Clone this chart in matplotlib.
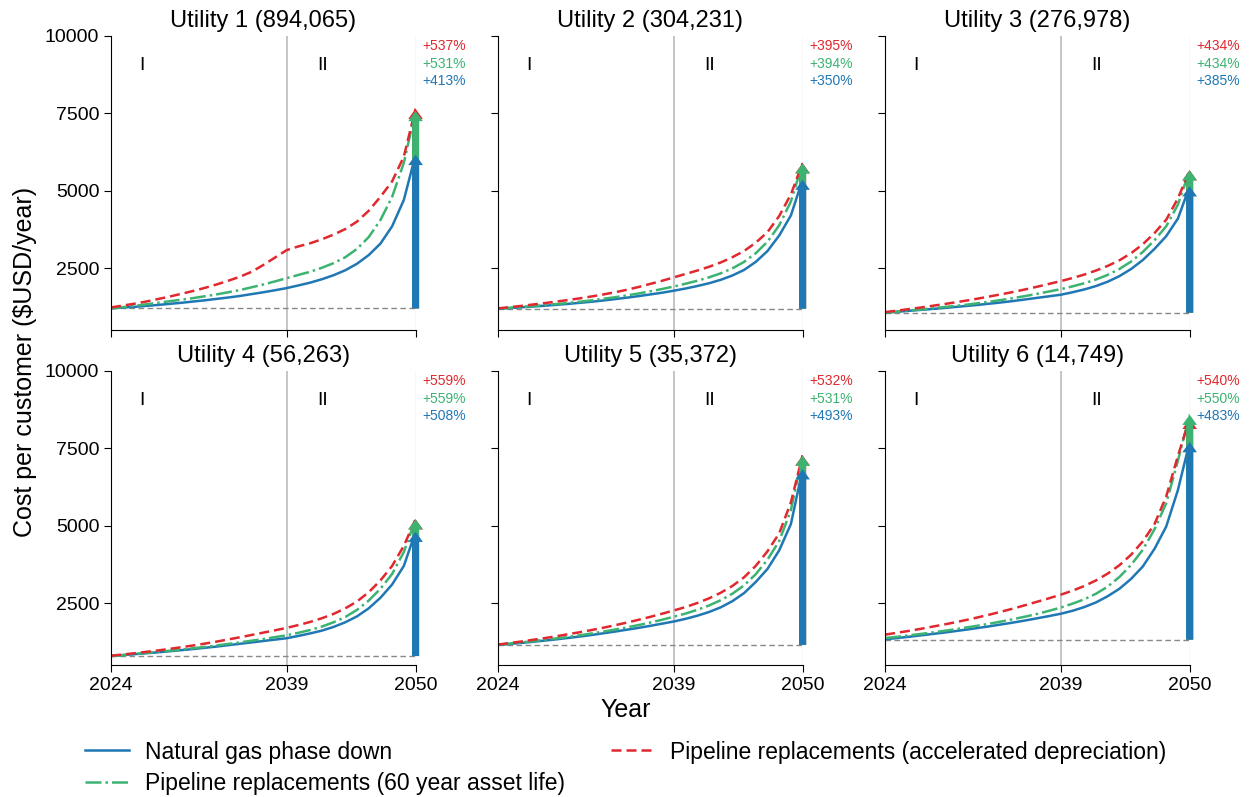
import matplotlib
matplotlib.use("Agg")
import matplotlib.pyplot as plt
import numpy as np

plt.rcParams['font.family'] = ['Liberation Sans', 'DejaVu Sans']

# data
years = np.arange(2024, 2051)
titles = ['Utility 1 (894,065)', 'Utility 2 (304,231)', 'Utility 3 (276,978)',
          'Utility 4 (56,263)', 'Utility 5 (35,372)', 'Utility 6 (14,749)']
baseline = [1200, 1190, 1060, 790, 1150, 1320]

phase_down = [
    [1200, 1225, 1250, 1280, 1310, 1345, 1380, 1420, 1460, 1505, 1550, 1600, 1660, 1720,
     1785, 1855, 1940, 2030, 2140, 2270, 2430, 2640, 2920, 3290, 3850, 4700, 6156],
    [1190, 1210, 1235, 1260, 1285, 1315, 1345, 1380, 1415, 1455, 1500, 1545, 1595, 1650,
     1705, 1770, 1840, 1920, 2010, 2120, 2260, 2440, 2700, 3050, 3550, 4200, 5355],
    [1060, 1090, 1120, 1150, 1180, 1210, 1245, 1280, 1315, 1355, 1395, 1440, 1490, 1540,
     1590, 1640, 1720, 1810, 1920, 2060, 2240, 2470, 2760, 3120, 3530, 4100, 5141],
    [790, 820, 850, 880, 910, 945, 980, 1015, 1055, 1095, 1140, 1185, 1230, 1275,
     1320, 1365, 1440, 1520, 1610, 1730, 1880, 2070, 2330, 2670, 3100, 3700, 4803],
    [1150, 1180, 1215, 1250, 1290, 1330, 1375, 1420, 1470, 1525, 1580, 1640, 1700, 1765,
     1835, 1905, 1990, 2090, 2210, 2360, 2560, 2820, 3180, 3600, 4200, 5050, 6820],
    [1330, 1370, 1410, 1455, 1500, 1545, 1595, 1645, 1700, 1755, 1815, 1875, 1940, 2010,
     2080, 2155, 2250, 2370, 2520, 2720, 2960, 3280, 3680, 4250, 4970, 6150, 7696],
]
pipe_60yr = [
    [1200, 1240, 1280, 1330, 1380, 1430, 1480, 1530, 1590, 1650, 1720, 1790, 1880, 1970,
     2070, 2175, 2280, 2380, 2510, 2660, 2850, 3120, 3500, 4050, 4800, 5900, 7572],
    [1190, 1215, 1245, 1275, 1305, 1340, 1375, 1415, 1460, 1510, 1560, 1620, 1680, 1750,
     1825, 1905, 1995, 2090, 2200, 2330, 2490, 2700, 2980, 3350, 3880, 4650, 5879],
    [1060, 1095, 1130, 1165, 1200, 1240, 1280, 1320, 1370, 1420, 1475, 1535, 1600, 1670,
     1745, 1820, 1910, 2010, 2130, 2280, 2470, 2710, 3020, 3400, 3850, 4550, 5660],
    [790, 820, 855, 890, 925, 960, 1000, 1040, 1085, 1130, 1180, 1230, 1285, 1340,
     1400, 1460, 1540, 1630, 1740, 1880, 2050, 2280, 2580, 2960, 3440, 4150, 5206],
    [1150, 1190, 1230, 1270, 1315, 1360, 1410, 1460, 1520, 1580, 1645, 1715, 1790, 1870,
     1960, 2060, 2160, 2280, 2420, 2590, 2800, 3070, 3430, 3900, 4500, 5500, 7257],
    [1370, 1410, 1455, 1500, 1550, 1600, 1655, 1715, 1775, 1840, 1910, 1985, 2065, 2150,
     2250, 2355, 2480, 2620, 2800, 3030, 3340, 3730, 4220, 4880, 5720, 7100, 8580],
]
pipe_accel = [
    [1230, 1290, 1350, 1420, 1500, 1580, 1670, 1760, 1860, 1970, 2090, 2220, 2380, 2600,
     2840, 3080, 3200, 3300, 3430, 3580, 3760, 4000, 4350, 4800, 5300, 6100, 7644],
    [1200, 1240, 1280, 1325, 1370, 1420, 1470, 1525, 1585, 1650, 1720, 1800, 1890, 1990,
     2090, 2200, 2310, 2420, 2540, 2680, 2850, 3050, 3320, 3660, 4180, 4880, 5890],
    [1080, 1125, 1175, 1225, 1280, 1335, 1395, 1455, 1520, 1590, 1660, 1735, 1815, 1900,
     1990, 2080, 2180, 2290, 2420, 2570, 2750, 2980, 3270, 3630, 4060, 4750, 5660],
    [800, 840, 880, 925, 970, 1020, 1075, 1130, 1190, 1255, 1325, 1395, 1470, 1545,
     1620, 1700, 1790, 1890, 2010, 2150, 2330, 2550, 2850, 3230, 3700, 4350, 5206],
    [1160, 1210, 1260, 1315, 1370, 1430, 1495, 1560, 1630, 1705, 1785, 1870, 1960, 2055,
     2155, 2260, 2370, 2500, 2650, 2830, 3050, 3330, 3700, 4170, 4750, 5750, 7268],
    [1480, 1540, 1600, 1665, 1735, 1805, 1880, 1960, 2045, 2135, 2230, 2330, 2435, 2545,
     2655, 2770, 2900, 3050, 3230, 3450, 3720, 4060, 4490, 5050, 5940, 7250, 8448],
]
pct_accel = ['+537%', '+395%', '+434%', '+559%', '+532%', '+540%']
pct_60yr = ['+531%', '+394%', '+434%', '+559%', '+531%', '+550%']
pct_phase = ['+413%', '+350%', '+385%', '+508%', '+493%', '+483%']

c_blue = '#1f77b4'
c_green = '#3cb371'
c_red = '#e0282e'

fig, axes = plt.subplots(2, 3, figsize=(12.52, 7.97), dpi=100, sharex=True, sharey=True)
plt.subplots_adjust(left=0.0887, right=0.9502, top=0.9552, bottom=0.1656,
                    wspace=0.271, hspace=0.138)

for i, ax in enumerate(axes.flat):
    ax.axvline(2039, color='#bbbbbb', lw=1.2, zorder=0)
    ax.axvline(2050, color='#dddddd', lw=1.0, zorder=0)
    ax.hlines(baseline[i], 2024, 2050, colors='#888888', linestyles=(0, (4, 2.5)), lw=1.0)

    l1, = ax.plot(years, phase_down[i], color=c_blue, lw=1.8,
                  label='Natural gas phase down')
    l2, = ax.plot(years, pipe_60yr[i], color=c_green, lw=1.8, ls='-.',
                  label='Pipeline replacements (60 year asset life)')
    l3, = ax.plot(years, pipe_accel[i], color=c_red, lw=1.8, ls=(0, (4, 2)),
                  label='Pipeline replacements (accelerated depreciation)')

    # arrows at 2050 from the baseline to each scenario's end value
    for series, col in [(pipe_accel[i], c_red), (pipe_60yr[i], c_green), (phase_down[i], c_blue)]:
        ax.arrow(2050, baseline[i], 0, series[-1] - baseline[i], width=0.6,
                 head_width=1.25, head_length=330, length_includes_head=True,
                 color=col, lw=0, clip_on=False, zorder=5)

    ax.text(1.023, 0.966, pct_accel[i], color=c_red, fontsize=10, transform=ax.transAxes, va='center')
    ax.text(1.023, 0.904, pct_60yr[i], color=c_green, fontsize=10, transform=ax.transAxes, va='center')
    ax.text(1.023, 0.846, pct_phase[i], color=c_blue, fontsize=10, transform=ax.transAxes, va='center')

    ax.text(2026.6, 9050, 'I', fontsize=14, ha='center', va='center')
    ax.text(2042.1, 9050, 'II', fontsize=14, ha='center', va='center')

    ax.set_title(titles[i], fontsize=17)
    ax.spines['top'].set_visible(False)
    ax.spines['right'].set_visible(False)
    ax.tick_params(labelsize=14, length=5)

ax = axes[0, 0]
ax.set_xlim(2024, 2050)
ax.set_ylim(500, 10000)
ax.set_xticks([2024, 2039, 2050])
ax.set_yticks([2500, 5000, 7500, 10000])

fig.text(0.02, 0.546, 'Cost per customer ($USD/year)', rotation=90, fontsize=18,
         ha='center', va='center')
fig.text(0.5, 0.109, 'Year', fontsize=18, ha='center', va='center')

fig.legend(handles=[l1, l2, l3], ncol=2, loc='center', bbox_to_anchor=(0.5, 0.037),
           frameon=False, fontsize=16.5, columnspacing=2.0, handlelength=1.9,
           handletextpad=0.7, labelspacing=0.35)

fig.savefig('out.png', dpi=100)
